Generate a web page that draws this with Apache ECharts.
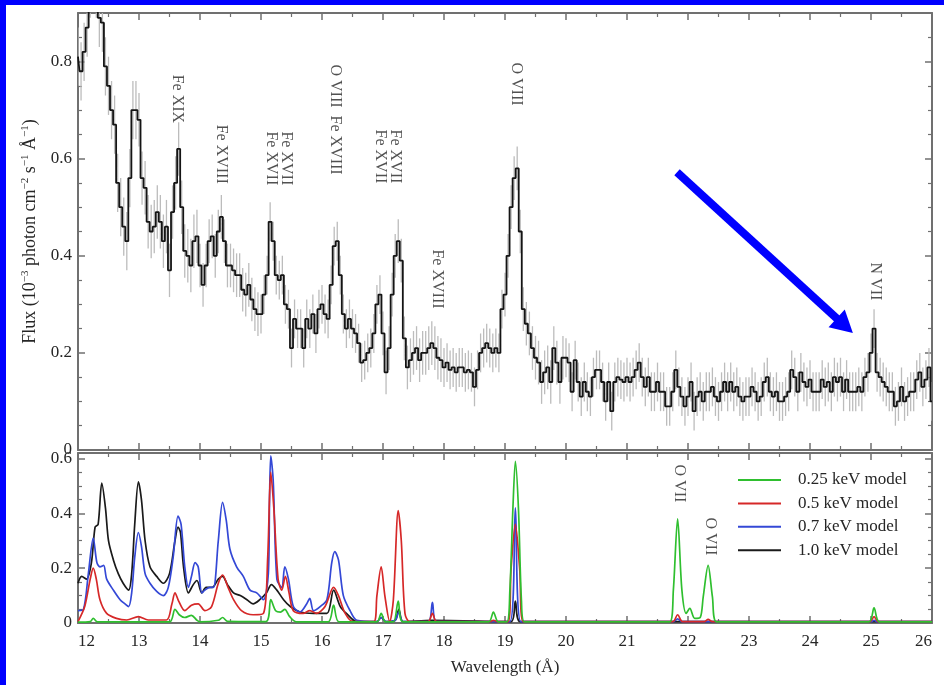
<!DOCTYPE html>
<html>
<head>
<meta charset="utf-8">
<script src="https://cdn.jsdelivr.net/npm/echarts@6/dist/echarts.min.js"></script>
<style>
  html, body { margin: 0; padding: 0; background: #0000ff; }
  #chart { position: absolute; left: 6px; top: 5px; width: 938px; height: 680px; background: #fff; }
</style>
</head>
<body>
<div id="chart"></div>
<script>
// observed spectrum, 0.05 A bins from 12.00 A (one row = 1 A)
var binStart = 12.0;
var binWidth = 0.05;
var flux = [
  0.81,0.78,0.82,0.87,0.95,0.97,0.95,0.89,0.88,0.79,0.75,0.70,0.67,0.55,0.50,0.46,0.43,0.56,0.70,0.70,
  0.68,0.56,0.54,0.47,0.45,0.46,0.49,0.47,0.43,0.46,0.37,0.49,0.55,0.62,0.50,0.41,0.40,0.38,0.43,0.44,
  0.38,0.34,0.38,0.43,0.44,0.40,0.45,0.48,0.43,0.38,0.38,0.37,0.36,0.36,0.33,0.32,0.34,0.31,0.29,0.28,
  0.28,0.32,0.36,0.47,0.43,0.36,0.35,0.36,0.30,0.29,0.21,0.27,0.25,0.25,0.21,0.27,0.25,0.28,0.24,0.29,
  0.30,0.28,0.27,0.34,0.42,0.43,0.36,0.28,0.25,0.27,0.25,0.24,0.22,0.18,0.185,0.20,0.21,0.24,0.30,0.32,
  0.24,0.16,0.21,0.32,0.40,0.43,0.39,0.23,0.17,0.185,0.20,0.21,0.185,0.20,0.20,0.21,0.22,0.21,0.19,0.185,
  0.17,0.18,0.165,0.17,0.16,0.17,0.17,0.16,0.165,0.16,0.13,0.165,0.20,0.21,0.22,0.21,0.20,0.21,0.20,0.29,
  0.32,0.40,0.50,0.56,0.58,0.45,0.29,0.26,0.24,0.21,0.19,0.18,0.14,0.16,0.17,0.14,0.21,0.18,0.14,0.19,
  0.19,0.18,0.12,0.185,0.14,0.11,0.14,0.12,0.11,0.15,0.165,0.165,0.14,0.10,0.14,0.08,0.14,0.15,0.145,0.14,
  0.15,0.14,0.15,0.165,0.18,0.15,0.13,0.15,0.12,0.12,0.14,0.12,0.12,0.09,0.09,0.12,0.165,0.13,0.11,0.09,
  0.11,0.14,0.08,0.11,0.12,0.10,0.12,0.12,0.13,0.11,0.10,0.12,0.14,0.12,0.14,0.12,0.13,0.11,0.10,0.11,
  0.11,0.13,0.12,0.10,0.11,0.14,0.15,0.12,0.11,0.12,0.10,0.10,0.11,0.12,0.165,0.15,0.12,0.16,0.14,0.13,
  0.145,0.12,0.12,0.12,0.145,0.13,0.14,0.12,0.15,0.14,0.15,0.12,0.145,0.12,0.12,0.12,0.13,0.12,0.15,0.16,
  0.20,0.25,0.16,0.15,0.14,0.13,0.12,0.12,0.09,0.10,0.13,0.10,0.11,0.12,0.12,0.145,0.16,0.13,0.145,0.17,
  0.10
];
// half length of the error bars, one value per 1 A (12-13, 13-14, ...)
var fluxErr = [0.06, 0.055, 0.045, 0.04, 0.04, 0.045, 0.04, 0.045, 0.04, 0.04, 0.04, 0.04, 0.04, 0.04, 0.04];

// model curves [wavelength, flux]
var model025 = [[12.0,0.003],[12.2,0.005],[12.25,0.017],[12.32,0.004],[13.5,0.004],[13.59,0.05],[13.66,0.03],[13.75,0.02],[13.86,0.028],[13.95,0.01],[14.0,0.004],[14.3,0.01],[14.37,0.02],[14.45,0.006],[15.08,0.005],[15.16,0.085],[15.24,0.045],[15.32,0.04],[15.39,0.05],[15.47,0.023],[15.58,0.004],[16.1,0.004],[16.19,0.065],[16.28,0.004],[16.9,0.004],[16.97,0.035],[17.04,0.004],[17.17,0.004],[17.25,0.08],[17.33,0.004],[18.73,0.004],[18.81,0.04],[18.89,0.004],[19.03,0.004],[19.08,0.12],[19.13,0.42],[19.17,0.59],[19.22,0.42],[19.27,0.08],[19.32,0.004],[21.7,0.004],[21.76,0.12],[21.83,0.38],[21.9,0.12],[21.97,0.035],[22.03,0.053],[22.11,0.017],[22.2,0.02],[22.25,0.096],[22.33,0.21],[22.4,0.096],[22.47,0.004],[24.96,0.004],[25.05,0.055],[25.14,0.004],[26.0,0.004]];
var model05 = [[12.0,0.005],[12.11,0.06],[12.2,0.16],[12.25,0.20],[12.3,0.16],[12.36,0.085],[12.47,0.035],[12.63,0.017],[12.8,0.011],[12.99,0.023],[13.15,0.011],[13.45,0.011],[13.54,0.07],[13.59,0.11],[13.65,0.08],[13.75,0.045],[13.86,0.065],[13.97,0.07],[14.08,0.045],[14.19,0.06],[14.3,0.145],[14.37,0.175],[14.46,0.13],[14.55,0.085],[14.68,0.045],[14.87,0.03],[15.04,0.035],[15.11,0.24],[15.16,0.55],[15.21,0.42],[15.28,0.16],[15.34,0.12],[15.4,0.17],[15.46,0.11],[15.53,0.045],[15.69,0.035],[15.8,0.045],[15.91,0.035],[16.05,0.06],[16.19,0.13],[16.27,0.10],[16.38,0.035],[16.51,0.005],[16.85,0.005],[16.9,0.10],[16.97,0.205],[17.03,0.10],[17.11,0.005],[17.17,0.085],[17.25,0.41],[17.3,0.30],[17.36,0.035],[17.44,0.005],[17.74,0.005],[17.81,0.035],[17.88,0.005],[18.75,0.005],[18.81,0.01],[18.88,0.005],[19.05,0.005],[19.1,0.2],[19.17,0.36],[19.24,0.2],[19.3,0.005],[21.75,0.005],[21.83,0.03],[21.91,0.005],[22.27,0.005],[22.33,0.013],[22.4,0.005],[24.98,0.005],[25.05,0.023],[25.12,0.005],[26.0,0.005]];
var model07 = [[12.0,0.045],[12.09,0.05],[12.17,0.18],[12.25,0.31],[12.31,0.22],[12.36,0.205],[12.42,0.21],[12.47,0.16],[12.58,0.12],[12.69,0.085],[12.77,0.07],[12.83,0.06],[12.88,0.11],[12.93,0.24],[12.99,0.33],[13.04,0.28],[13.1,0.18],[13.18,0.145],[13.29,0.115],[13.4,0.10],[13.48,0.13],[13.56,0.24],[13.64,0.39],[13.69,0.36],[13.75,0.205],[13.81,0.13],[13.86,0.17],[13.92,0.22],[13.97,0.205],[14.03,0.11],[14.08,0.12],[14.16,0.13],[14.22,0.13],[14.3,0.30],[14.37,0.44],[14.43,0.375],[14.49,0.27],[14.6,0.205],[14.71,0.17],[14.82,0.12],[14.93,0.11],[15.04,0.085],[15.12,0.18],[15.14,0.45],[15.16,0.61],[15.2,0.52],[15.26,0.16],[15.34,0.13],[15.39,0.205],[15.45,0.16],[15.53,0.06],[15.64,0.04],[15.75,0.07],[15.8,0.09],[15.86,0.045],[15.97,0.06],[16.08,0.085],[16.16,0.22],[16.21,0.26],[16.27,0.23],[16.35,0.10],[16.46,0.045],[16.57,0.01],[16.9,0.005],[16.97,0.02],[17.05,0.005],[17.2,0.01],[17.26,0.04],[17.33,0.005],[17.74,0.005],[17.81,0.075],[17.88,0.005],[19.08,0.005],[19.17,0.42],[19.26,0.005],[21.76,0.005],[21.83,0.015],[21.9,0.005],[25.0,0.005],[25.05,0.01],[25.1,0.005],[26.0,0.005]];
var model10 = [[12.0,0.145],[12.06,0.17],[12.14,0.16],[12.22,0.22],[12.28,0.35],[12.33,0.36],[12.39,0.51],[12.45,0.42],[12.5,0.30],[12.58,0.23],[12.66,0.18],[12.74,0.145],[12.83,0.12],[12.88,0.18],[12.93,0.36],[12.99,0.515],[13.04,0.45],[13.1,0.30],[13.18,0.205],[13.29,0.17],[13.4,0.145],[13.5,0.18],[13.59,0.30],[13.64,0.35],[13.68,0.33],[13.73,0.205],[13.81,0.11],[13.89,0.14],[13.95,0.155],[14.03,0.11],[14.1,0.13],[14.2,0.13],[14.3,0.16],[14.37,0.17],[14.45,0.14],[14.55,0.11],[14.66,0.10],[14.77,0.085],[14.87,0.07],[14.98,0.085],[15.09,0.11],[15.17,0.14],[15.26,0.12],[15.37,0.085],[15.48,0.06],[15.64,0.04],[15.86,0.035],[16.08,0.035],[16.19,0.12],[16.3,0.06],[16.4,0.035],[16.57,0.005],[16.9,0.005],[16.97,0.02],[17.05,0.005],[17.2,0.01],[17.26,0.05],[17.33,0.005],[17.8,0.01],[19.1,0.005],[19.17,0.08],[19.25,0.005],[26.0,0.005]];

var modelNames = ['0.25 keV model', '0.5 keV model', '0.7 keV model', '1.0 keV model'];

// line identifications [wavelength, flux at top of the text]
var topLabels = [
  { name: 'Fe XIX', value: [13.64, 0.772] },
  { name: 'Fe XVIII', value: [14.36, 0.669] },
  { name: 'Fe XVII\nFe XVII', value: [15.3, 0.655] },
  { name: 'O VIII  Fe XVIII', value: [16.23, 0.793] },
  { name: 'Fe XVII\nFe XVII', value: [17.08, 0.659] },
  { name: 'Fe XVIII', value: [17.89, 0.412] },
  { name: 'O VIII', value: [19.2, 0.797] },
  { name: 'N VII', value: [25.07, 0.385] }
];
var bottomLabels = [
  { name: 'O VII', value: [21.87, 0.576] },
  { name: 'O VII', value: [22.38, 0.383] }
];
// blue arrow pointing at N VII
var arrowFrom = [21.82, 0.572];
var arrowTo = [24.57, 0.256];

var serif = '"Liberation Serif", "DejaVu Serif", serif';
var axisColor = '#707070';
var textColor = '#262626';

var specData = [];
var errData = [];
for (var i = 0; i < flux.length; i++) {
  var w = +(binStart + i * binWidth).toFixed(2);
  var e = fluxErr[Math.min(Math.floor(w - binStart), fluxErr.length - 1)];
  specData.push([w, flux[i]]);
  errData.push([w, flux[i] - e, flux[i] + e]);
}

function xAxisOf(grid, pos, showLabel) {
  return {
    type: 'value', gridIndex: grid, position: pos, min: 12, max: 26, interval: 1,
    axisLine: { onZero: false, lineStyle: { color: axisColor, width: 2 } },
    axisTick: { inside: true, length: 7, lineStyle: { color: axisColor, width: 1.5 } },
    minorTick: { show: true, splitNumber: 2, length: 4, lineStyle: { color: axisColor, width: 1.2 } },
    splitLine: { show: false },
    axisLabel: {
      show: showLabel, margin: 10, color: textColor, fontFamily: serif, fontSize: 17,
      alignMinLabel: 'left', alignMaxLabel: 'right'
    }
  };
}
function yAxisOf(grid, pos, max, showLabel) {
  return {
    type: 'value', gridIndex: grid, position: pos, min: 0, max: max, interval: 0.2,
    axisLine: { onZero: false, lineStyle: { color: axisColor, width: 2 } },
    axisTick: { inside: true, length: 7, lineStyle: { color: axisColor, width: 1.5 } },
    minorTick: { show: true, splitNumber: 4, length: 4, lineStyle: { color: axisColor, width: 1.2 } },
    splitLine: { show: false },
    axisLabel: { show: showLabel, margin: 6, color: textColor, fontFamily: serif, fontSize: 17, showMaxLabel: false }
  };
}

var xAxes = [xAxisOf(0, 'bottom', false), xAxisOf(0, 'top', false), xAxisOf(1, 'bottom', true), xAxisOf(1, 'top', false)];
xAxes[2].name = 'Wavelength (Å)';
xAxes[2].nameLocation = 'middle';
xAxes[2].nameGap = 36;
xAxes[2].nameTextStyle = { color: textColor, fontFamily: serif, fontSize: 17 };

var yAxes = [yAxisOf(0, 'left', 0.9, true), yAxisOf(0, 'right', 0.9, false), yAxisOf(1, 'left', 0.62, true), yAxisOf(1, 'right', 0.62, false)];
yAxes[0].name = '{n|Flux (10}{s|−3}{n| photon cm}{s|−2}{n| s}{s|−1}{n| Å}{s|−1}{n|)}';
yAxes[0].nameLocation = 'middle';
yAxes[0].nameRotate = 90;
yAxes[0].nameGap = 38;
yAxes[0].nameTextStyle = {
  rich: {
    n: { color: textColor, fontFamily: serif, fontSize: 18, lineHeight: 20 },
    s: { color: textColor, fontFamily: serif, fontSize: 11, lineHeight: 20, verticalAlign: 'top' }
  }
};

function labelSeries(data, grid) {
  return {
    type: 'scatter', xAxisIndex: grid, yAxisIndex: grid, data: data,
    symbolSize: 1, itemStyle: { color: 'rgba(0,0,0,0)' }, silent: true, z: 5,
    label: {
      show: true, formatter: '{b}', position: [0, 0], rotate: -90,
      align: 'left', verticalAlign: 'middle',
      color: textColor, fontFamily: serif, fontSize: 16, lineHeight: 15
    }
  };
}

function modelSeries(name, data, color) {
  return {
    name: name, type: 'line', xAxisIndex: 2, yAxisIndex: 2, data: data,
    showSymbol: false, smooth: 0.3, clip: true,
    lineStyle: { color: color, width: 1.7 }, itemStyle: { color: color }
  };
}

var chart = echarts.init(document.getElementById('chart'));
chart.setOption({
  animation: false,
  backgroundColor: '#fff',
  grid: [
    { left: 72, top: 8, width: 854, height: 437, outerBoundsMode: 'none' },
    { left: 72, top: 448, width: 854, height: 170, outerBoundsMode: 'none' }
  ],
  xAxis: xAxes,
  yAxis: yAxes,
  legend: {
    data: modelNames, orient: 'vertical', left: 727, top: 461,
    icon: 'rect', itemWidth: 43, itemHeight: 2, itemGap: 5.4, selectedMode: false,
    textStyle: { color: textColor, fontFamily: serif, fontSize: 17, lineHeight: 18, padding: [0, 0, 0, 12] }
  },
  series: [
    {
      type: 'custom', xAxisIndex: 0, yAxisIndex: 0, data: errData, clip: true, silent: true, z: 1,
      renderItem: function (params, api) {
        var p1 = api.coord([api.value(0), api.value(1)]);
        var p2 = api.coord([api.value(0), api.value(2)]);
        return {
          type: 'line',
          shape: { x1: p1[0], y1: p1[1], x2: p2[0], y2: p2[1] },
          style: { stroke: '#bcbcbc', lineWidth: 1.3 }
        };
      }
    },
    {
      type: 'line', xAxisIndex: 0, yAxisIndex: 0, data: specData, step: 'middle',
      showSymbol: false, clip: true, z: 2,
      lineStyle: { color: '#141414', width: 1.8 },
      markLine: {
        silent: true, symbol: ['none', 'triangle'], symbolSize: [24, 22],
        label: { show: false },
        lineStyle: { color: '#0000ff', width: 8, type: 'solid' },
        data: [[{ coord: arrowFrom }, { coord: arrowTo }]]
      }
    },
    labelSeries(topLabels, 0),
    modelSeries(modelNames[3], model10, '#1a1a1a'),
    modelSeries(modelNames[2], model07, '#3448d6'),
    modelSeries(modelNames[1], model05, '#d62828'),
    modelSeries(modelNames[0], model025, '#2fbf2f'),
    labelSeries(bottomLabels, 2)
  ]
});
</script>
</body>
</html>
